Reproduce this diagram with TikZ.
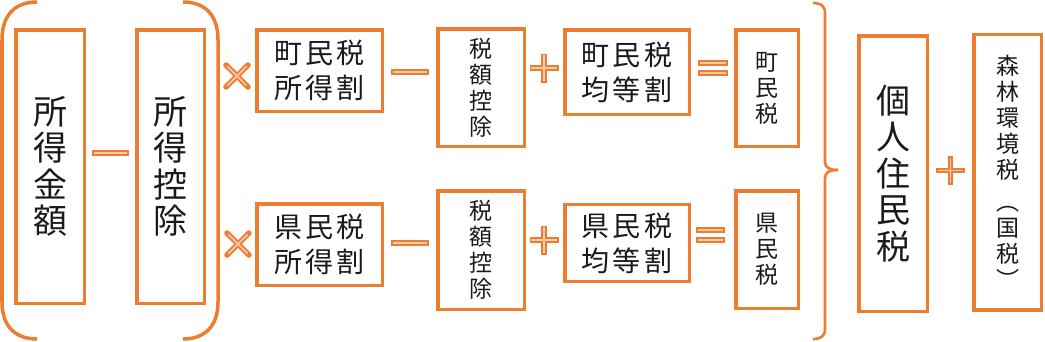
\documentclass[tikz,border=0pt]{standalone}
\usepackage{fontspec}
\setmainfont{Noto Sans CJK JP}
\newfontfamily\jpw[LetterSpace=12]{Noto Sans CJK JP}
\definecolor{ob}{HTML}{ED7D31}
\definecolor{oblight}{HTML}{F8CBAD}
\definecolor{txt}{HTML}{1A1A1A}
\begin{document}
\begin{tikzpicture}[x=1pt,y=-1pt,
  box/.style={draw=ob, line width=3.5pt, inner sep=0pt, align=center, text=txt},
  bigv/.style={font=\fontsize{34}{36.5}\selectfont},
  hor/.style={font=\jpw\fontsize{28}{35}\selectfont},
  smallv/.style={font=\fontsize{23}{26}\selectfont},
  opo/.style={draw=ob, line width=5.5pt},
  opi/.style={draw=oblight, line width=1.6pt, shorten >=1.9pt, shorten <=1.9pt},
  paren/.style={draw=ob, line width=3.5pt},
  brace/.style={draw=ob, line width=2.6pt}]
\useasboundingbox (0,0) rectangle (1045,341);

% boxes
\node[box,bigv,minimum width=68.5,minimum height=273.5] (kingaku) at (50,166.5) {所\\得\\金\\額};
\node[box,bigv,minimum width=67.5,minimum height=273.5] (koujo) at (170.5,166.5) {所\\得\\控\\除};
\node[box,hor,minimum width=125.5,minimum height=81.5] (chosho) at (319.5,70.5) {町民税\\所得割};
\node[box,hor,minimum width=125.5,minimum height=81.5] (kensho) at (319.5,244.5) {県民税\\所得割};
\node[box,smallv,minimum width=86.5,minimum height=117.5] (zk1) at (481,87.5) {税\\額\\控\\除};
\node[box,smallv,minimum width=86.5,minimum height=118.5] (zk2) at (481,250) {税\\額\\控\\除};
\node[box,hor,minimum width=124.5,minimum height=84.5] (chokin) at (627,72) {町民税\\均等割};
\node[box,hor,minimum width=124.5,minimum height=77] (kenkin) at (627,243) {県民税\\均等割};
\node[box,smallv,minimum width=62.5,minimum height=116.5] (chomin) at (767,88) {町\\民\\税};
\node[box,smallv,minimum width=62.5,minimum height=117.5] (kenmin) at (767,249.5) {県\\民\\税};
\node[box,bigv,minimum width=68.5,minimum height=275.5] (kojin) at (893,173.5) {個\\人\\住\\民\\税};
\node[box,smallv,minimum width=67.5,minimum height=275.5] (shinrin) at (1007.5,172) {森\\林\\環\\境\\税\\[6pt]︵\\国\\税\\︶};

% parentheses
\draw[paren] (37,2) .. controls (15,2) and (2,15) .. (2,40) -- (2,302) .. controls (2,326) and (15,339) .. (37,339);
\draw[paren] (183,2) .. controls (205,2) and (218,15) .. (218,40) -- (218,302) .. controls (218,326) and (205,339) .. (183,339);

% brace
\draw[brace] (813,3) .. controls (821,3) and (825,6) .. (825,13) -- (825,162) .. controls (825,168) and (830,170) .. (838,170);
\draw[brace] (838,170) .. controls (830,170) and (825,172) .. (825,178) -- (825,329) .. controls (825,336) and (821,339) .. (813,339);

% minus (left)
\draw[opo] (92,153) -- (129,153); \draw[opi] (92,153) -- (129,153);
% times
\foreach \cx/\cy in {237/76, 238/244}{
  \draw[opo,line cap=round] (\cx-11,\cy-11) -- (\cx+11,\cy+11);
  \draw[opo,line cap=round] (\cx-11,\cy+11) -- (\cx+11,\cy-11);
  \draw[opi] (\cx-11,\cy-11) -- (\cx+11,\cy+11);
  \draw[opi] (\cx-11,\cy+11) -- (\cx+11,\cy-11);
}
% minus
\foreach \cy in {72,243}{
  \draw[opo] (391,\cy) -- (429,\cy); \draw[opi] (391,\cy) -- (429,\cy);
}
% plus
\foreach \cx/\cy in {544/68, 544/240, 950.5/170.5}{
  \draw[opo] (\cx-14.5,\cy) -- (\cx+14.5,\cy);
  \draw[opo] (\cx,\cy-14.5) -- (\cx,\cy+14.5);
  \draw[opi] (\cx-14.5,\cy) -- (\cx+14.5,\cy);
  \draw[opi] (\cx,\cy-14.5) -- (\cx,\cy+14.5);
}
% equals
\foreach \xa/\xb/\cy in {698/728/68, 696/725/235}{
  \draw[opo] (\xa,\cy-5) -- (\xb,\cy-5); \draw[opi] (\xa,\cy-5) -- (\xb,\cy-5);
  \draw[opo] (\xa,\cy+5) -- (\xb,\cy+5); \draw[opi] (\xa,\cy+5) -- (\xb,\cy+5);
}
\end{tikzpicture}
\end{document}
